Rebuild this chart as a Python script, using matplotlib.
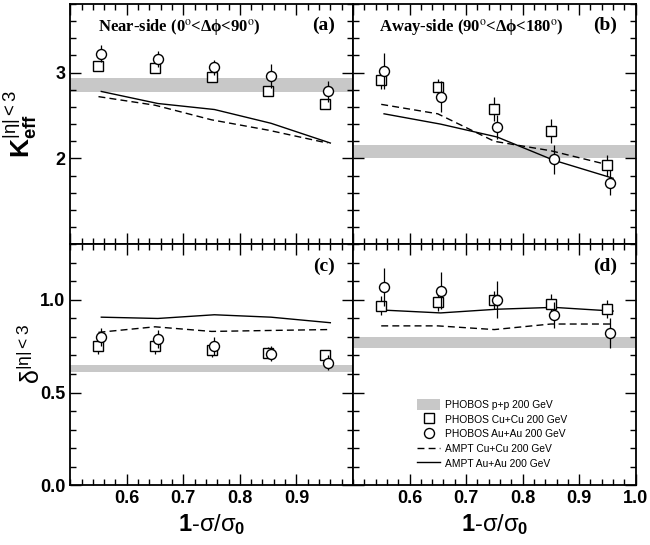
import matplotlib.pyplot as plt
from matplotlib.patches import Patch
from matplotlib.lines import Line2D
from matplotlib.ticker import MultipleLocator

plt.rcParams['font.family'] = 'Liberation Sans'
plt.rcParams['mathtext.fontset'] = 'custom'
plt.rcParams['mathtext.rm'] = 'Liberation Sans'
plt.rcParams['mathtext.it'] = 'Liberation Sans'
plt.rcParams['mathtext.bf'] = 'Liberation Sans:bold'
plt.rcParams['mathtext.default'] = 'regular'

# DATA
x_cu = [0.55, 0.65, 0.75, 0.85, 0.95]
x_au = [0.555, 0.655, 0.755, 0.855, 0.955]
x_ampt_cu = [0.55, 0.65, 0.75, 0.85, 0.955]
x_ampt_au = [0.555, 0.655, 0.755, 0.855, 0.96]

# K_eff near side (a)
keff_near_cu = [3.08, 3.05, 2.95, 2.78, 2.63]
keff_near_cu_err = [0.06, 0.05, 0.05, 0.05, 0.05]
keff_near_au = [3.22, 3.16, 3.06, 2.96, 2.78]
keff_near_au_err = [0.10, 0.09, 0.09, 0.14, 0.12]
keff_near_ampt_cu = [2.72, 2.62, 2.45, 2.33, 2.18]
keff_near_ampt_au = [2.78, 2.64, 2.57, 2.41, 2.18]
keff_near_pp = [2.77, 2.94]

# K_eff away side (b)
keff_away_cu = [2.91, 2.83, 2.58, 2.32, 1.92]
keff_away_cu_err = [0.10, 0.10, 0.14, 0.14, 0.12]
keff_away_au = [3.02, 2.72, 2.37, 1.99, 1.72]
keff_away_au_err = [0.21, 0.18, 0.14, 0.17, 0.15]
keff_away_ampt_cu = [2.63, 2.52, 2.20, 2.09, 1.92]
keff_away_ampt_au = [2.52, 2.40, 2.25, 1.98, 1.77]
keff_away_pp = [2.00, 2.16]

# delta near side (c)
delta_near_cu = [0.75, 0.75, 0.73, 0.715, 0.70]
delta_near_cu_err = [0.04, 0.04, 0.04, 0.03, 0.03]
delta_near_au = [0.80, 0.79, 0.75, 0.71, 0.66]
delta_near_au_err = [0.05, 0.05, 0.05, 0.04, 0.04]
delta_near_ampt_cu = [0.825, 0.855, 0.83, 0.835, 0.84]
delta_near_ampt_au = [0.907, 0.90, 0.92, 0.907, 0.877]
delta_near_pp = [0.61, 0.65]

# delta away side (d)
delta_away_cu = [0.97, 0.99, 1.00, 0.98, 0.95]
delta_away_cu_err = [0.05, 0.05, 0.05, 0.05, 0.05]
delta_away_au = [1.07, 1.05, 1.00, 0.92, 0.82]
delta_away_au_err = [0.10, 0.10, 0.10, 0.07, 0.08]
delta_away_ampt_cu = [0.86, 0.86, 0.84, 0.87, 0.87]
delta_away_ampt_au = [0.945, 0.93, 0.95, 0.96, 0.94]
delta_away_pp = [0.74, 0.80]

BAND = '#c8c8c8'
DASH = (0, (5, 3))
MS_SQ = 6.8
MS_CI = 7.2


def draw_panel(ax, cu, cu_err, au, au_err, ampt_cu, ampt_au, pp, tag):
    ax.axhspan(pp[0], pp[1], color=BAND, lw=0, zorder=1)
    ax.plot(x_ampt_cu, ampt_cu, color='black', lw=1.0, ls=DASH, zorder=2)
    ax.plot(x_ampt_au, ampt_au, color='black', lw=1.0, zorder=2)
    ax.errorbar(x_cu, cu, yerr=cu_err, fmt='s', ms=MS_SQ, mfc='white', mec='black',
                mew=1.0, ecolor='black', elinewidth=0.9, capsize=0, zorder=3)
    ax.errorbar(x_au, au, yerr=au_err, fmt='o', ms=MS_CI, mfc='white', mec='black',
                mew=1.0, ecolor='black', elinewidth=0.9, capsize=0, zorder=4)
    ax.text(0.935, 0.945, tag, transform=ax.transAxes, ha='right', va='top',
            fontsize=14, fontweight='bold', family='Liberation Serif')


fig, axes = plt.subplots(2, 2, figsize=(6.5, 5.45), dpi=100)
fig.subplots_adjust(left=0.108, right=0.978, top=0.993, bottom=0.110,
                    hspace=0, wspace=0)

draw_panel(axes[0, 0], keff_near_cu, keff_near_cu_err, keff_near_au, keff_near_au_err,
           keff_near_ampt_cu, keff_near_ampt_au, keff_near_pp, '(a)')
draw_panel(axes[0, 1], keff_away_cu, keff_away_cu_err, keff_away_au, keff_away_au_err,
           keff_away_ampt_cu, keff_away_ampt_au, keff_away_pp, '(b)')
draw_panel(axes[1, 0], delta_near_cu, delta_near_cu_err, delta_near_au, delta_near_au_err,
           delta_near_ampt_cu, delta_near_ampt_au, delta_near_pp, '(c)')
draw_panel(axes[1, 1], delta_away_cu, delta_away_cu_err, delta_away_au, delta_away_au_err,
           delta_away_ampt_cu, delta_away_ampt_au, delta_away_pp, '(d)')

axes[0, 0].text(0.098, 0.945, r'Near-side (0$^{\mathrm{o}}$<$\Delta\phi$<90$^{\mathrm{o}}$)',
                transform=axes[0, 0].transAxes, ha='left', va='top', fontsize=12,
                fontweight='bold', family='Liberation Serif', math_fontfamily='stix')
axes[0, 1].text(0.093, 0.945, r'Away-side (90$^{\mathrm{o}}$<$\Delta\phi$<180$^{\mathrm{o}}$)',
                transform=axes[0, 1].transAxes, ha='left', va='top', fontsize=12,
                fontweight='bold', family='Liberation Serif', math_fontfamily='stix')

for ax in axes.flat:
    ax.set_xlim(0.5, 1.0)
    ax.xaxis.set_major_locator(MultipleLocator(0.1))
    ax.xaxis.set_minor_locator(MultipleLocator(0.02))
    ax.tick_params(which='both', direction='in', top=True, right=True,
                   labelsize=13, width=1.0)
    ax.tick_params(which='major', length=8)
    ax.tick_params(which='minor', length=4)
    for s in ax.spines.values():
        s.set_linewidth(1.3)

for ax in axes[0]:
    ax.set_ylim(1.0, 3.8)
    ax.yaxis.set_major_locator(MultipleLocator(1))
    ax.yaxis.set_minor_locator(MultipleLocator(0.2))
    ax.tick_params(labelbottom=False)
for ax in axes[1]:
    ax.set_ylim(0.0, 1.3)
    ax.yaxis.set_major_locator(MultipleLocator(0.5))
    ax.yaxis.set_minor_locator(MultipleLocator(0.1))
    ax.set_xlabel(r'$\mathbf{1\text{-}}\sigma/\sigma_{\mathbf{0}}$', fontsize=17, labelpad=4)
for ax in axes[:, 1]:
    ax.tick_params(labelleft=False)

axes[0, 0].set_yticks([2, 3])
axes[0, 0].set_yticklabels(['2', '3'], fontweight='bold')
axes[1, 0].set_yticks([0.0, 0.5, 1.0])
axes[1, 0].set_yticklabels(['0.0', '0.5', '1.0'], fontweight='bold')
axes[1, 0].set_xticks([0.6, 0.7, 0.8, 0.9])
axes[1, 0].set_xticklabels(['0.6', '0.7', '0.8', '0.9'], fontweight='bold')
axes[1, 1].set_xticks([0.6, 0.7, 0.8, 0.9, 1.0])
axes[1, 1].set_xticklabels(['0.6', '0.7', '0.8', '0.9', '1.0'], fontweight='bold')

axes[0, 0].set_ylabel(r'$\mathbf{K}_{\mathbf{eff}}^{|\eta|{<}3}$', fontsize=19)
axes[0, 0].yaxis.set_label_coords(-0.11, 0.5)
axes[1, 0].set_ylabel(r'$\delta^{|\eta|{<}3}$', fontsize=18)
axes[1, 0].yaxis.set_label_coords(-0.09, 0.545)

handles = [
    Patch(facecolor=BAND, edgecolor='none'),
    Line2D([], [], ls='none', marker='s', ms=MS_SQ, mfc='white', mec='black', mew=1.0),
    Line2D([], [], ls='none', marker='o', ms=MS_CI, mfc='white', mec='black', mew=1.0),
    Line2D([], [], color='black', lw=1.0, ls=DASH),
    Line2D([], [], color='black', lw=1.0),
]
labels = ['PHOBOS p+p 200 GeV', 'PHOBOS Cu+Cu 200 GeV', 'PHOBOS Au+Au 200 GeV',
          'AMPT Cu+Cu 200 GeV', 'AMPT Au+Au 200 GeV']
axes[1, 1].legend(handles, labels, loc='lower left', bbox_to_anchor=(0.2, 0.035),
                  frameon=False, fontsize=7.4, handlelength=2.3, handleheight=1.35,
                  handletextpad=0.5, labelspacing=0.32, borderpad=0.2)

fig.savefig('out.png', dpi=100)
